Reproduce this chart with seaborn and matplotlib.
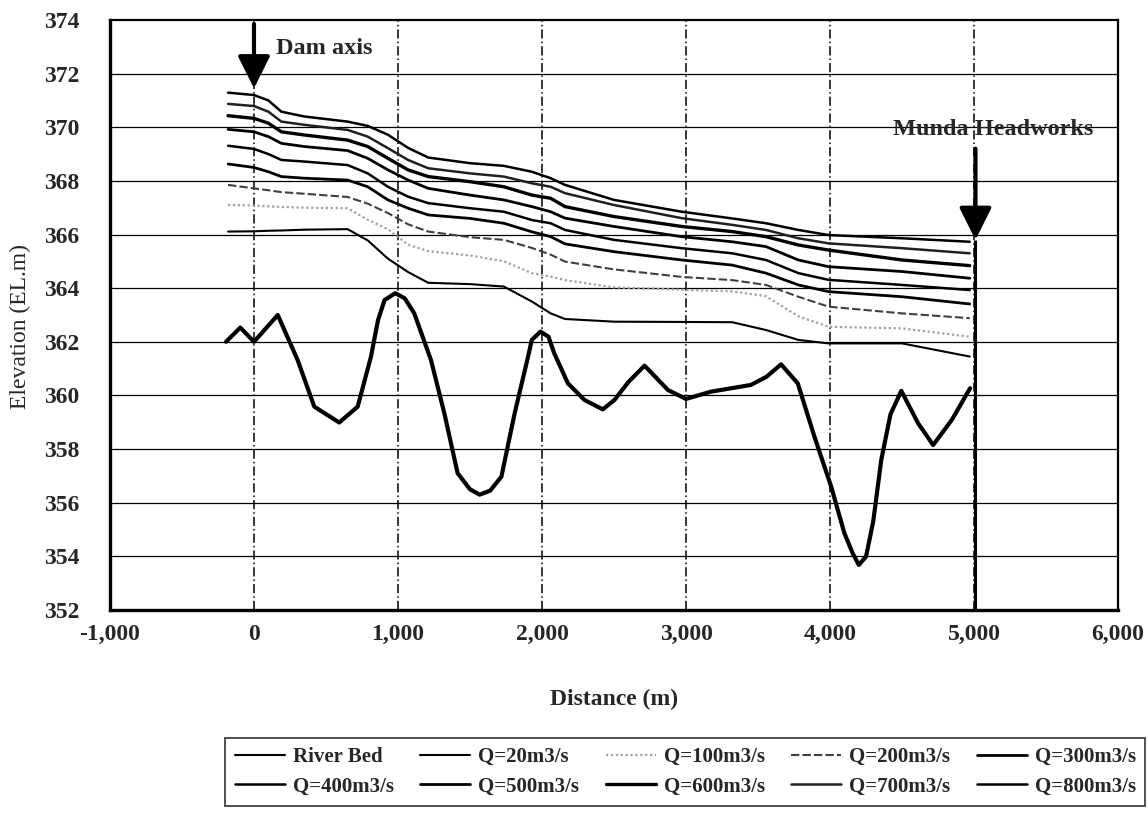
import numpy as np
import pandas as pd
import matplotlib
matplotlib.use("Agg")
import matplotlib.pyplot as plt
import seaborn as sns
from matplotlib.ticker import FuncFormatter

# ---------------- data ----------------
bed_x = [-194, -95, 0, 165, 303, 419, 592, 720, 812, 861, 907, 981, 1047, 1113, 1229,
         1322, 1414, 1500, 1567, 1640, 1718, 1810, 1903, 1929, 1990, 2045, 2085, 2180,
         2295, 2422, 2503, 2600, 2712, 2875, 3000, 3173, 3450, 3560, 3660, 3776, 3892,
         4008, 4100, 4157, 4200, 4250, 4300, 4356, 4420, 4495, 4612, 4716, 4846, 4973]
bed_y = [362.0, 362.53, 362.0, 363.0, 361.32, 359.58, 358.99, 359.58, 361.44, 362.8,
         363.56, 363.81, 363.62, 363.06, 361.32, 359.33, 357.1, 356.5, 356.3, 356.45,
         356.97, 359.33, 361.44, 362.07, 362.38, 362.19, 361.57, 360.45, 359.83, 359.48,
         359.83, 360.5, 361.11, 360.2, 359.87, 360.14, 360.39, 360.7, 361.16, 360.45,
         358.46, 356.6, 354.86, 354.12, 353.68, 353.99, 355.3, 357.6, 359.3, 360.17,
         358.96, 358.15, 359.09, 360.27]

ws_x = [-180, 0, 100, 190, 350, 650, 790, 930, 1070, 1210, 1500, 1735, 1930, 2060,
        2160, 2500, 2970, 3320, 3555, 3780, 3990, 4500, 4970]

q20 = [366.11, 366.12, 366.14, 366.15, 366.18, 366.2, 365.78, 365.1, 364.6, 364.2,
       364.15, 364.06, 363.5, 363.06, 362.85, 362.75, 362.74, 362.73, 362.44, 362.07,
       361.94, 361.94, 361.45]
q100 = [367.1, 367.08, 367.05, 367.03, 367.0, 366.98, 366.55, 366.2, 365.62, 365.38,
        365.22, 365.0, 364.56, 364.43, 364.3, 364.03, 363.94, 363.88, 363.7, 362.95,
        362.56, 362.5, 362.19]
q200 = [367.85, 367.72, 367.65, 367.58, 367.52, 367.4, 367.15, 366.8, 366.38, 366.11,
        365.9, 365.8, 365.5, 365.25, 364.99, 364.7, 364.42, 364.3, 364.12, 363.68,
        363.31, 363.06, 362.88]
q300 = [368.63, 368.5, 368.34, 368.16, 368.1, 368.03, 367.78, 367.29, 366.98, 366.73,
        366.6, 366.42, 366.1, 365.92, 365.65, 365.36, 365.05, 364.86, 364.56, 364.12,
        363.87, 363.68, 363.41]
q400 = [369.31, 369.19, 369.0, 368.78, 368.72, 368.59, 368.28, 367.78, 367.41, 367.17,
        366.98, 366.85, 366.54, 366.42, 366.17, 365.8, 365.49, 365.3, 365.05, 364.56,
        364.31, 364.12, 363.93]
q500 = [369.92, 369.83, 369.65, 369.4, 369.28, 369.13, 368.84, 368.41, 368.03, 367.72,
        367.47, 367.29, 367.04, 366.85, 366.61, 366.3, 365.92, 365.73, 365.55, 365.05,
        364.8, 364.62, 364.37]
q600 = [370.43, 370.33, 370.15, 369.83, 369.71, 369.52, 369.28, 368.84, 368.41, 368.16,
        367.97, 367.78, 367.47, 367.35, 367.04, 366.67, 366.3, 366.11, 365.92, 365.61,
        365.42, 365.05, 364.84]
q700 = [370.87, 370.79, 370.58, 370.21, 370.09, 369.9, 369.65, 369.22, 368.78, 368.47,
        368.28, 368.16, 367.91, 367.78, 367.54, 367.1, 366.61, 366.36, 366.17, 365.86,
        365.67, 365.49, 365.3]
q800 = [371.29, 371.2, 371.0, 370.58, 370.4, 370.21, 370.05, 369.72, 369.23, 368.87,
        368.66, 368.56, 368.34, 368.1, 367.85, 367.29, 366.85, 366.6, 366.42, 366.17,
        365.98, 365.86, 365.73]

series_labels = ["Q=20m3/s", "Q=100m3/s", "Q=200m3/s", "Q=300m3/s", "Q=400m3/s",
                 "Q=500m3/s", "Q=600m3/s", "Q=700m3/s", "Q=800m3/s"]
series_values = [q20, q100, q200, q300, q400, q500, q600, q700, q800]

x_ticks = [-1000, 0, 1000, 2000, 3000, 4000, 5000, 6000]
y_ticks = [352, 354, 356, 358, 360, 362, 364, 366, 368, 370, 372, 374]

# ---------------- styles ----------------
styles = {
    "Q=20m3/s": dict(color="black", lw=1.5, ls="-"),
    "Q=100m3/s": dict(color="#a0a0a0", lw=1.6, ls=(0, (1, 1.2))),
    "Q=200m3/s": dict(color="#404040", lw=1.5, ls=(0, (4, 1.5))),
    "Q=300m3/s": dict(color="black", lw=2.0, ls="-"),
    "Q=400m3/s": dict(color="black", lw=1.8, ls="-"),
    "Q=500m3/s": dict(color="black", lw=2.0, ls="-"),
    "Q=600m3/s": dict(color="black", lw=2.4, ls="-"),
    "Q=700m3/s": dict(color="#202020", lw=1.8, ls="-"),
    "Q=800m3/s": dict(color="black", lw=1.8, ls="-"),
}

sns.set_theme(style="white")
plt.rcParams["font.family"] = ["Liberation Serif", "DejaVu Serif"]
plt.rcParams["lines.solid_joinstyle"] = "round"
plt.rcParams["lines.solid_capstyle"] = "round"

fig = plt.figure(figsize=(11.48, 8.18), dpi=100)
ax = fig.add_axes([0.0958, 0.2543, 0.8781, 0.7213])

# grid
for yv in y_ticks[1:-1]:
    ax.axhline(yv, color="black", lw=0.9, zorder=1)
for xv in x_ticks[1:-1]:
    ax.axvline(xv, color="black", lw=1.1, ls=(0, (6, 2, 1, 2)), zorder=1)

sns.lineplot(x=bed_x, y=bed_y, ax=ax, color="black", linewidth=3.0, label="River Bed",
             zorder=3)
for lab, vals in zip(series_labels, series_values):
    st = styles[lab]
    sns.lineplot(x=ws_x, y=vals, ax=ax, color=st["color"], linewidth=st["lw"],
                 linestyle=st["ls"], label=lab, zorder=3)

ax.set_xlim(-1000, 6000)
ax.set_ylim(352, 374)
ax.set_xticks(x_ticks)
ax.set_yticks(y_ticks)
ax.xaxis.set_major_formatter(FuncFormatter(lambda v, p: f"{int(v):,}"))
ax.tick_params(axis="both", length=0, labelsize=17)
ax.tick_params(axis="x", pad=10)
ax.tick_params(axis="y", pad=22)
for t in ax.get_xticklabels() + ax.get_yticklabels():
    t.set_fontweight("bold")

ax.set_xlabel("Distance (m)", fontsize=17, fontweight="bold", labelpad=32)
ax.set_ylabel("Elevation (EL.m)", fontsize=17)
ax.yaxis.set_label_coords(-0.078, 0.48)

for sp in ax.spines.values():
    sp.set_color("black")
    sp.set_linewidth(1.6)
ax.spines["left"].set_linewidth(2.4)
ax.spines["bottom"].set_linewidth(2.4)

# annotations
arrow_kw = dict(arrowstyle="-|>,head_length=0.9,head_width=0.45", color="black",
                lw=3, mutation_scale=22, shrinkA=0, shrinkB=0)
ax.annotate("", xy=(0, 371.45), xytext=(0, 373.85), arrowprops=arrow_kw, zorder=5)
ax.text(150, 372.95, "Dam axis", fontsize=17.5, va="center", ha="left", fontweight="bold")
ax.annotate("", xy=(5010, 365.8), xytext=(5010, 369.2), arrowprops=arrow_kw, zorder=5)
ax.vlines(5010, 352, 365.8, color="black", lw=2.2, zorder=4)
ax.text(4440, 369.9, "Munda Headworks", fontsize=17.5, va="center", ha="left",
        fontweight="bold")

# legend in row-major order
h, l = ax.get_legend_handles_labels()
order = [0, 5, 1, 6, 2, 7, 3, 8, 4, 9]
leg = fig.legend([h[i] for i in order], [l[i] for i in order], ncol=5,
                 loc="center", bbox_to_anchor=(0.597, 0.0565), fontsize=15,
                 frameon=True, fancybox=False, edgecolor="black", handlelength=2.4,
                 handletextpad=0.4, columnspacing=1.25, borderpad=0.45, labelspacing=0.45)
leg.get_frame().set_linewidth(1.2)
for t in leg.get_texts():
    t.set_fontweight("bold")
for lh, lab in zip(leg.legend_handles, [l[i] for i in order]):
    if lab == "River Bed":
        lh.set_linewidth(1.5)
if ax.get_legend():
    ax.get_legend().remove()

fig.savefig("out.png", dpi=100, facecolor="white")
